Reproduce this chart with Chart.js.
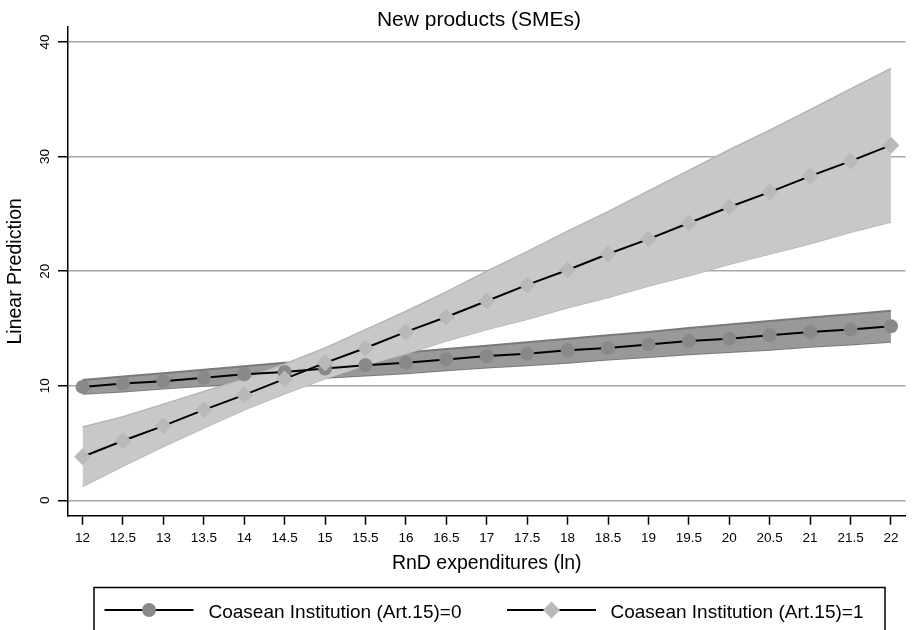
<!DOCTYPE html>
<html>
<head>
<meta charset="utf-8">
<script src="https://cdn.jsdelivr.net/npm/chart.js@4.4.1/dist/chart.umd.min.js"></script>
<style>
  html, body { margin: 0; padding: 0; background: #fff; }
  canvas { display: block; }
</style>
</head>
<body>
<canvas id="chart_c" width="914" height="630"></canvas>
<script>
// values
const rnd = [12, 12.5, 13, 13.5, 14, 14.5, 15, 15.5, 16, 16.5, 17, 17.5, 18, 18.5, 19, 19.5, 20, 20.5, 21, 21.5, 22]

const pred_0  = [9.9, 10.2, 10.4, 10.7, 11.0, 11.2, 11.5, 11.8, 12.0, 12.3, 12.6, 12.8, 13.1, 13.3, 13.6, 13.9, 14.1, 14.4, 14.7, 14.9, 15.2]
const upper_0 = [10.5, 10.8, 11.1, 11.4, 11.7, 12.0, 12.3, 12.6, 12.9, 13.2, 13.5, 13.8, 14.1, 14.4, 14.7, 15.05, 15.35, 15.65, 15.95, 16.25, 16.55]
const lower_0 = [9.3, 9.5, 9.75, 10.0, 10.2, 10.4, 10.7, 10.9, 11.1, 11.35, 11.6, 11.8, 12.0, 12.3, 12.5, 12.75, 12.95, 13.15, 13.4, 13.6, 13.85]

const pred_1  = [3.8, 5.2, 6.5, 7.9, 9.2, 10.6, 12.0, 13.3, 14.7, 16.0, 17.4, 18.8, 20.1, 21.5, 22.8, 24.2, 25.6, 26.9, 28.3, 29.6, 31.0]
const upper_1 = [6.4, 7.3, 8.4, 9.5, 10.6, 11.9, 13.3, 14.9, 16.5, 18.2, 20.0, 21.7, 23.5, 25.2, 27.0, 28.8, 30.6, 32.3, 34.1, 35.9, 37.7]
const lower_1 = [1.2, 3.0, 4.7, 6.3, 7.9, 9.3, 10.6, 11.8, 12.8, 13.9, 14.9, 15.8, 16.8, 17.7, 18.7, 19.6, 20.6, 21.5, 22.4, 23.4, 24.3]

const xTicks = [12, 12.5, 13, 13.5, 14, 14.5, 15, 15.5, 16, 16.5, 17, 17.5, 18, 18.5, 19, 19.5, 20, 20.5, 21, 21.5, 22]
const yTicks = [0, 10, 20, 30, 40]

const titleText = "New products (SMEs)"
const xTitle = "RnD expenditures (ln)"
const yTitle = "Linear Prediction"
const legendLabels = ["Coasean Institution (Art.15)=0", "Coasean Institution (Art.15)=1"]

const FONT = '"Liberation Sans", Arial, Helvetica, sans-serif'

const toPoints = (ys) => rnd.map((x, i) => ({ x: x, y: ys[i] }))

// title + boxed legend, drawn on the canvas like the rest
const decor = {
  id: 'decor',
  afterDraw: (chart) => {
    const ctx = chart.ctx
    ctx.save()
    ctx.fillStyle = '#000'
    ctx.font = '21px ' + FONT
    ctx.textAlign = 'center'
    ctx.textBaseline = 'alphabetic'
    ctx.fillText(titleText, 479, 25.5)

    ctx.strokeStyle = '#000'
    ctx.lineWidth = 1.5
    ctx.strokeRect(94, 587.5, 791, 60)

    const items = [
      { ds: chart.data.datasets[1], x0: 104.5, textX: 208.5, label: legendLabels[0] },
      { ds: chart.data.datasets[0], x0: 507, textX: 610.5, label: legendLabels[1] }
    ]
    items.forEach((it) => {
      const yc = 610
      ctx.beginPath()
      ctx.moveTo(it.x0, yc)
      ctx.lineTo(it.x0 + 89, yc)
      ctx.lineWidth = 2
      ctx.strokeStyle = '#000'
      ctx.stroke()
      const cx = it.x0 + 44.5
      const r = it.ds.pointRadius
      ctx.fillStyle = it.ds.pointBackgroundColor
      ctx.beginPath()
      if (it.ds.pointStyle === 'rectRot') {
        ctx.moveTo(cx, yc - r)
        ctx.lineTo(cx + r, yc)
        ctx.lineTo(cx, yc + r)
        ctx.lineTo(cx - r, yc)
        ctx.closePath()
      } else {
        ctx.arc(cx, yc, r, 0, Math.PI * 2)
      }
      ctx.fill()
      ctx.fillStyle = '#000'
      ctx.font = '19px ' + FONT
      ctx.textAlign = 'left'
      ctx.fillText(it.label, it.textX, 618)
    })
    ctx.restore()
  }
}

new Chart(
  document.getElementById('chart_c'),
  {
    type: 'line',
    data: {
      datasets: [
        {
          label: legendLabels[1],
          data: toPoints(pred_1),
          borderColor: '#000',
          borderWidth: 2,
          pointStyle: 'rectRot',
          pointRadius: 8.5,
          pointBackgroundColor: '#b9b9b9',
          pointBorderWidth: 0,
          fill: false
        },
        {
          label: legendLabels[0],
          data: toPoints(pred_0),
          borderColor: '#000',
          borderWidth: 2,
          pointStyle: 'circle',
          pointRadius: 7,
          pointBackgroundColor: '#898989',
          pointBorderWidth: 0,
          fill: false
        },
        {
          label: 'ci_1_upper',
          data: toPoints(upper_1),
          borderColor: '#b6b6b6',
          borderWidth: 1.5,
          pointRadius: 0,
          backgroundColor: '#c8c8c8',
          fill: '+1'
        },
        {
          label: 'ci_1_lower',
          data: toPoints(lower_1),
          borderColor: '#b6b6b6',
          borderWidth: 1.5,
          pointRadius: 0,
          fill: false
        },
        {
          label: 'ci_0_upper',
          data: toPoints(upper_0),
          borderColor: '#7a7a7a',
          borderWidth: 2,
          pointRadius: 0,
          backgroundColor: '#999999',
          fill: '+1'
        },
        {
          label: 'ci_0_lower',
          data: toPoints(lower_0),
          borderColor: '#7a7a7a',
          borderWidth: 2,
          pointRadius: 0,
          fill: false
        }
      ]
    },
    options: {
      responsive: false,
      animation: false,
      events: [],
      layout: { padding: { top: 27, right: 3, left: 0, bottom: 0 } },
      plugins: {
        legend: { display: false },
        tooltip: { enabled: false },
        title: { display: false }
      },
      scales: {
        x: {
          type: 'linear',
          min: 11.82,
          max: 22.18,
          afterBuildTicks: (scale) => { scale.ticks = xTicks.map(v => ({ value: v })) },
          afterFit: (scale) => { scale.height = 114.3 },
          grid: { drawOnChartArea: false, drawTicks: true, tickLength: 9, tickColor: '#000', tickWidth: 1.5 },
          border: { display: true, color: '#000', width: 1.5 },
          ticks: {
            autoSkip: false,
            maxRotation: 0,
            padding: 5,
            color: '#000',
            font: { family: FONT, size: 13.5 },
            callback: (v) => String(v)
          },
          title: {
            display: true,
            text: xTitle,
            color: '#000',
            font: { family: FONT, size: 19.5 },
            padding: { top: 0, bottom: 54.3 }
          }
        },
        y: {
          type: 'linear',
          min: -1.34,
          max: 41.31,
          afterBuildTicks: (scale) => { scale.ticks = yTicks.map(v => ({ value: v })) },
          afterFit: (scale) => { scale.width = 68 },
          grid: { color: '#a8a8a8', lineWidth: 1.5, drawTicks: true, tickLength: 10, tickColor: '#000', tickWidth: 1.5 },
          border: { display: true, color: '#000', width: 1.5 },
          ticks: {
            minRotation: 90,
            maxRotation: 90,
            crossAlign: 'center',
            padding: 5.5,
            color: '#000',
            font: { family: FONT, size: 13.5 },
            callback: (v) => String(v)
          },
          title: {
            display: true,
            text: yTitle,
            color: '#000',
            font: { family: FONT, size: 19.5 },
            padding: { top: 3.8, bottom: 0 }
          }
        }
      }
    },
    plugins: [decor]
  }
);
</script>
</body>
</html>
